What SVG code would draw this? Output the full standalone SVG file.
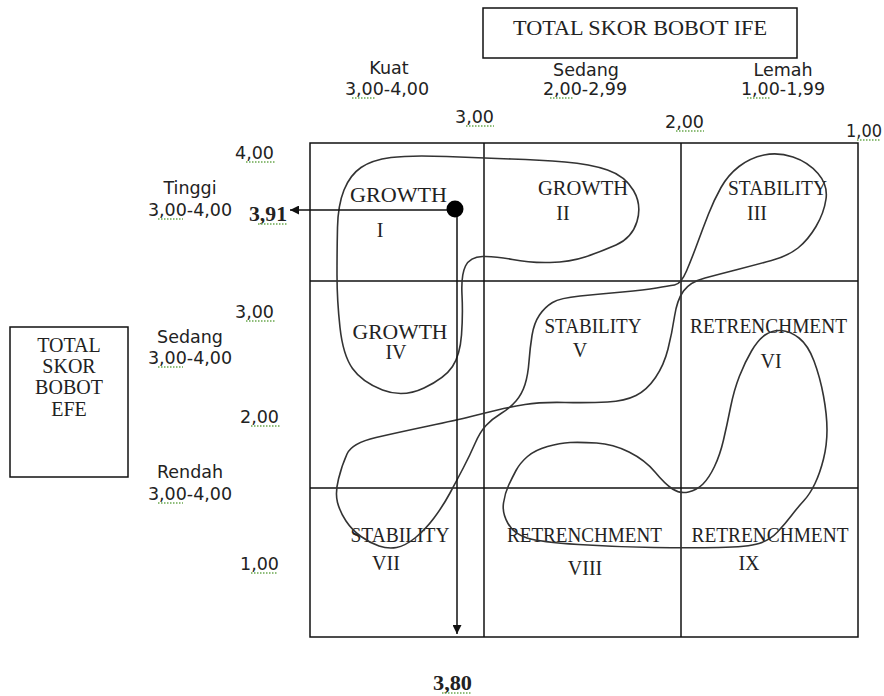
<svg xmlns="http://www.w3.org/2000/svg" width="884" height="696" viewBox="0 0 884 696">
<style>
.sans{font-family:"DejaVu Sans",Verdana,sans-serif;font-size:17.5px;fill:#222}
.serif{font-family:"Liberation Serif","Times New Roman",serif;font-size:20px;fill:#222}
.bold{font-weight:bold}
.box{fill:#fff;stroke:#111;stroke-width:1.5}
.grid{fill:none;stroke:#111;stroke-width:1.5}
.curve{fill:none;stroke:#333;stroke-width:1.6;stroke-linejoin:round}
.sq{stroke:#6aa84f;stroke-width:1.5;stroke-dasharray:1.5 1.5;fill:none}
.conn{stroke:#111;stroke-width:1.5;fill:none}
</style>
<defs>
<marker id="ah" viewBox="0 0 10 10" refX="10" refY="5" markerUnits="userSpaceOnUse" markerWidth="10" markerHeight="9" orient="auto">
<path d="M0,0 L10,5 L0,10 Z" fill="#111"/>
</marker>
</defs>
<rect width="884" height="696" fill="#fff"/>

<g id="ife-box">
<rect class="box" x="483" y="8" width="314" height="50"/>
<text class="serif" x="640" y="35" text-anchor="middle" textLength="254" lengthAdjust="spacingAndGlyphs">TOTAL SKOR BOBOT IFE</text>
</g>

<g id="efe-box">
<rect class="box" x="10" y="327" width="118" height="150"/>
<text class="serif" x="69" y="352" text-anchor="middle">TOTAL</text>
<text class="serif" x="69" y="373" text-anchor="middle">SKOR</text>
<text class="serif" x="69" y="394" text-anchor="middle">BOBOT</text>
<text class="serif" x="69" y="416" text-anchor="middle">EFE</text>
</g>

<g id="top-axis">
<text class="sans" x="389" y="74" text-anchor="middle">Kuat</text>
<text class="sans" x="387" y="95" text-anchor="middle">3,00-4,00</text>
<text class="sans" x="586" y="76" text-anchor="middle">Sedang</text>
<text class="sans" x="585" y="95" text-anchor="middle">2,00-2,99</text>
<text class="sans" x="783" y="76" text-anchor="middle">Lemah</text>
<text class="sans" x="783" y="95" text-anchor="middle">1,00-1,99</text>
<text class="sans" x="455" y="123">3,00</text>
<text class="sans" x="665" y="128">2,00</text>
<text class="sans" x="846" y="137" textLength="36" lengthAdjust="spacingAndGlyphs">1,00</text>
<path class="sq" d="M352,98 H375 M550,98 H573 M747,98 H770 M466,126 H494 M676,131 H704 M857,140 H881"/>
</g>

<g id="left-axis">
<text class="sans" x="235" y="159">4,00</text>
<text class="sans" x="190" y="194" text-anchor="middle">Tinggi</text>
<text class="sans" x="190" y="216" text-anchor="middle">3,00-4,00</text>
<text class="sans" x="235" y="318">3,00</text>
<text class="sans" x="190" y="343" text-anchor="middle">Sedang</text>
<text class="sans" x="190" y="364" text-anchor="middle">3,00-4,00</text>
<text class="sans" x="240" y="423">2,00</text>
<text class="sans" x="190" y="478" text-anchor="middle">Rendah</text>
<text class="sans" x="190" y="500" text-anchor="middle">3,00-4,00</text>
<text class="sans" x="240" y="570">1,00</text>
<path class="sq" d="M246,162 H276 M158,219 H183 M246,321 H276 M158,367 H183 M251,426 H280 M158,503 H183 M251,573 H278"/>
</g>

<g id="values">
<text class="serif bold" x="249" y="221" textLength="38" lengthAdjust="spacingAndGlyphs">3,91</text>
<text class="serif bold" x="433" y="690" textLength="39" lengthAdjust="spacingAndGlyphs">3,80</text>
<path class="sq" d="M258,224 H287 M442,693 H472"/>
</g>

<g id="grid">
<rect class="grid" x="310" y="143" width="548" height="494"/>
<line class="grid" x1="484" y1="143" x2="484" y2="637"/>
<line class="grid" x1="681" y1="143" x2="681" y2="637"/>
<line class="grid" x1="310" y1="281" x2="858" y2="281"/>
<line class="grid" x1="310" y1="488" x2="858" y2="488"/>
</g>

<g id="cell-1"><text class="serif" x="398.5" y="202" text-anchor="middle" textLength="97" lengthAdjust="spacingAndGlyphs">GROWTH</text><text class="serif" x="380" y="237" text-anchor="middle">I</text></g>
<g id="cell-2"><text class="serif" x="583" y="195" text-anchor="middle" textLength="90" lengthAdjust="spacingAndGlyphs">GROWTH</text><text class="serif" x="563" y="220" text-anchor="middle">II</text></g>
<g id="cell-3"><text class="serif" x="777.5" y="195" text-anchor="middle" textLength="99" lengthAdjust="spacingAndGlyphs">STABILITY</text><text class="serif" x="757" y="220" text-anchor="middle">III</text></g>
<g id="cell-4"><text class="serif" x="400" y="339" text-anchor="middle" textLength="95" lengthAdjust="spacingAndGlyphs">GROWTH</text><text class="serif" x="396" y="359" text-anchor="middle">IV</text></g>
<g id="cell-5"><text class="serif" x="593" y="333" text-anchor="middle" textLength="97" lengthAdjust="spacingAndGlyphs">STABILITY</text><text class="serif" x="580" y="357" text-anchor="middle">V</text></g>
<g id="cell-6"><text class="serif" x="768.5" y="333" text-anchor="middle" textLength="157" lengthAdjust="spacingAndGlyphs">RETRENCHMENT</text><text class="serif" x="771" y="368" text-anchor="middle">VI</text></g>
<g id="cell-7"><text class="serif" x="400" y="542" text-anchor="middle" textLength="99" lengthAdjust="spacingAndGlyphs">STABILITY</text><text class="serif" x="386" y="570" text-anchor="middle">VII</text></g>
<g id="cell-8"><text class="serif" x="584.5" y="542" text-anchor="middle" textLength="155" lengthAdjust="spacingAndGlyphs">RETRENCHMENT</text><text class="serif" x="585" y="575" text-anchor="middle">VIII</text></g>
<g id="cell-9"><text class="serif" x="770" y="542" text-anchor="middle" textLength="157" lengthAdjust="spacingAndGlyphs">RETRENCHMENT</text><text class="serif" x="749" y="570" text-anchor="middle">IX</text></g>

<g id="curves">
<path class="curve" d="M337,275 Q337,250 337.5,227.5 Q338,205 344,190 Q350,175 361,167.5 Q372,160 391,157.5 Q410,155 446.5,156.5 Q483,158 511.5,159 Q540,160 565,162 Q590,164 607.5,170 Q625,176 633.5,190.5 Q642,205 637,221.5 Q632,238 616,245 Q600,252 585,257 Q570,262 550,262.5 Q530,263 512.5,259.5 Q495,256 482.5,256.5 Q470,257 465.5,266 Q461,275 462,295 Q463,315 461.5,335 Q460,355 452.5,366.5 Q445,378 424,388 Q403,398 382.5,390 Q362,382 352.5,368.5 Q343,355 340,327.5 Q337,300 337,275 Z"/>
<path class="curve" d="M674.5,285 Q681,284 686.5,271 Q692,258 697.5,243 Q703,228 708.5,214 Q714,200 721,187.5 Q728,175 739,166.5 Q750,158 764,155 Q778,152 793,157 Q808,162 818,173.5 Q828,185 826,199 Q824,213 816,226.5 Q808,240 798,248 Q788,256 771.5,260.5 Q755,265 737.5,269.5 Q720,274 705,278 Q690,282 683.5,291 Q677,300 674.5,316.5 Q672,333 668,349 Q664,365 655.5,377.5 Q647,390 636,395.5 Q625,401 607.5,402 Q590,403 565,402.5 Q540,402 525,404.5 Q510,407 497.5,410 Q485,413 471,416.5 Q457,420 428.5,426 Q400,432 376,437.5 Q352,443 347,454 Q342,465 338.5,479 Q335,493 337.5,502.5 Q340,512 346,521 Q352,530 361,536.5 Q370,543 379,546 Q388,549 396.5,547.5 Q405,546 415,538 Q425,530 434,518 Q443,506 450,493 Q457,480 463.5,467.5 Q470,455 475,443.5 Q480,432 486,425.5 Q492,419 501,413.5 Q510,408 516,401 Q522,394 525,384.5 Q528,375 529,361.5 Q530,348 532,335.5 Q534,323 539.5,315 Q545,307 552.5,302.5 Q560,298 580,296 Q600,294 622.5,292 Q645,290 656.5,288 Q668,286 674.5,285 Z"/>
<path class="curve" d="M570,442.5 Q580,442 596.5,443 Q613,444 629,452 Q645,460 655,472 Q665,484 672.5,489 Q680,494 688.5,492 Q697,490 703,484 Q709,478 714.5,466.5 Q720,455 723.5,440 Q727,425 730.5,407.5 Q734,390 739.5,376 Q745,362 751.5,351 Q758,340 765,335 Q772,330 781,330.5 Q790,331 799,338 Q808,345 814,361 Q820,377 823.5,396 Q827,415 827,430 Q827,445 823.5,459 Q820,473 815,483.5 Q810,494 804,500.5 Q798,507 791.5,515.5 Q785,524 777.5,532 Q770,540 759,543.5 Q748,547 719,547.5 Q690,548 653.5,547.5 Q617,547 578.5,544.5 Q540,542 527,538 Q514,534 508,523.5 Q502,513 503.5,503 Q505,493 508.5,485.5 Q512,478 516,470.5 Q520,463 527.5,456.5 Q535,450 547.5,446.5 Q560,443 570,442.5 Z"/>
</g>

<g id="connectors">
<line class="conn" x1="455" y1="210" x2="290" y2="210" marker-end="url(#ah)"/>
<line class="conn" x1="457" y1="210" x2="457" y2="634" marker-end="url(#ah)"/>
<circle cx="455" cy="209" r="8.5" fill="#000"/>
</g>
</svg>
